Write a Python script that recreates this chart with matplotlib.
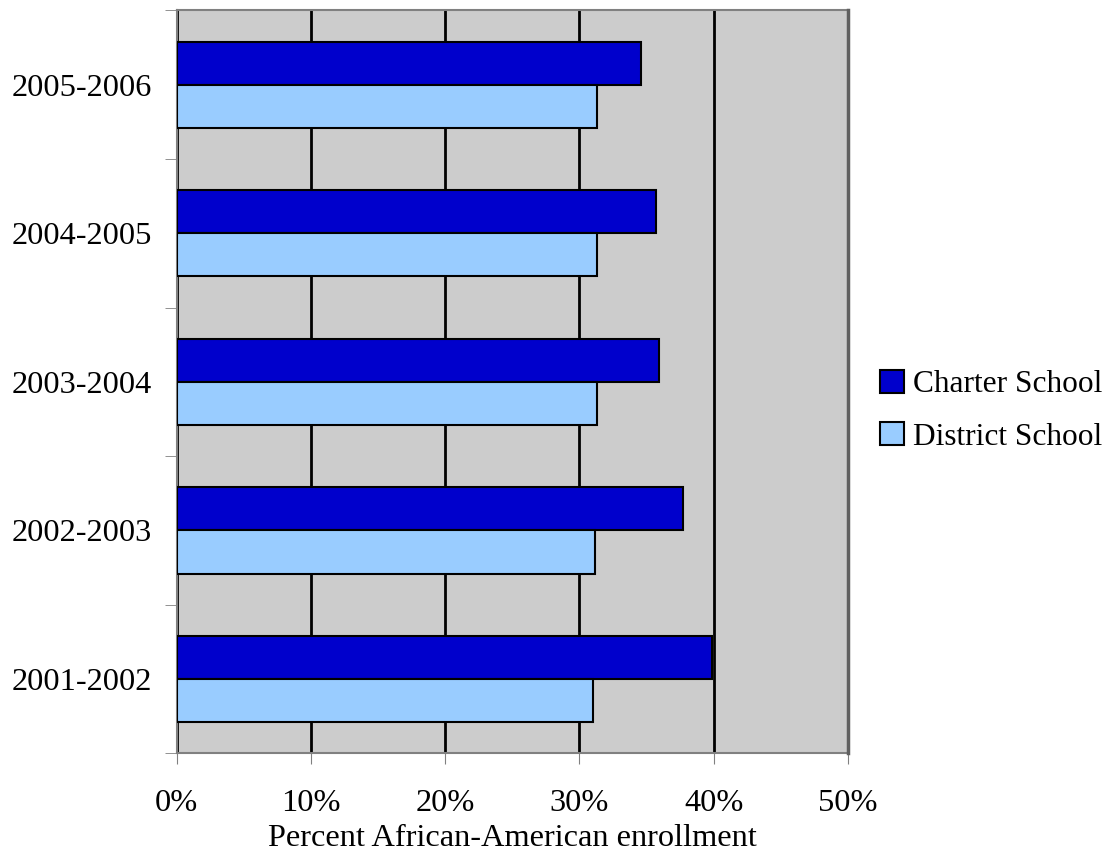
import numpy as np
from matplotlib import pyplot as plt

years = ["2001-2002", "2002-2003", "2003-2004", "2004-2005", "2005-2006"]
charter = [39.9, 37.7, 35.9, 35.7, 34.6]
district = [31.0, 31.2, 31.3, 31.3, 31.3]
xticks = [0, 10, 20, 30, 40, 50]

plt.rcParams['font.family'] = ['Liberation Serif', 'DejaVu Serif']
plt.rcParams['font.size'] = 23.3

fig = plt.figure(figsize=(11.04, 8.58), dpi=100)
ax = fig.add_axes([0.160, 0.122, 0.608, 0.866])
ax.set_facecolor('#cccccc')

y = np.arange(len(years))
h = 0.29
ax.barh(y + h / 2, charter, height=h, color='#0000cc', edgecolor='black', linewidth=1.5,
        label='Charter School', zorder=3)
ax.barh(y - h / 2, district, height=h, color='#99ccff', edgecolor='black', linewidth=1.5,
        label='District School', zorder=3)

ax.set_xlim(0, 50)
ax.set_ylim(-0.5, len(years) - 0.5)
ax.set_xticks(xticks)
ax.set_xticklabels([f"{v}%" for v in xticks])
ax.xaxis.grid(True, color='black', linewidth=2, zorder=1)
ax.set_axisbelow(True)

ax.set_yticks(y)
ax.set_yticklabels(years)
ax.set_yticks(np.arange(len(years) + 1) - 0.5, minor=True)
ax.tick_params(axis='y', which='major', length=0, pad=18)
ax.tick_params(axis='y', which='minor', length=9, color='#808080', direction='out')
ax.tick_params(axis='x', length=8, color='#808080', direction='out', pad=18)

for s in ['left', 'bottom', 'top']:
    ax.spines[s].set_color('#808080')
    ax.spines[s].set_linewidth(1.5)
ax.spines['right'].set_color('#606060')
ax.spines['right'].set_linewidth(2.5)
ax.spines['right'].set_zorder(4)

ax.set_xlabel("Percent African-American enrollment", labelpad=4)

ax.legend(loc='center left', bbox_to_anchor=(1.006, 0.461), frameon=False, fontsize=22.6,
          handlelength=0.75, handleheight=0.75, handletextpad=0.3, labelspacing=0.72)

fig.savefig("out.png", dpi=100)
